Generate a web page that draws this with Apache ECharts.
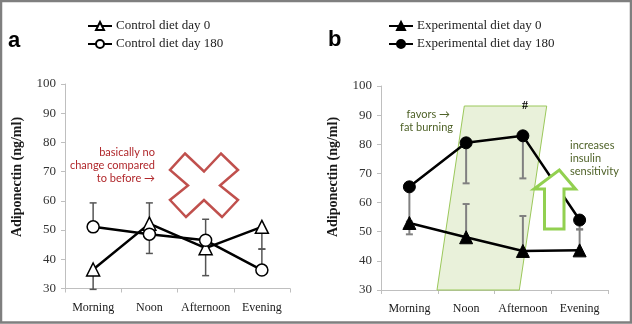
<!DOCTYPE html>
<html>
<head>
<meta charset="utf-8">
<script src="https://cdn.jsdelivr.net/npm/echarts@6/dist/echarts.min.js"></script>
<style>
  html, body { margin: 0; padding: 0; background: #fff; }
  #chart { width: 632px; height: 324px; }
</style>
</head>
<body>
<div id="chart"></div>
<script>
// Time points of the day
const categories = ['Morning', 'Noon', 'Afternoon', 'Evening'];
const yTicks = [30, 40, 50, 60, 70, 80, 90, 100];

// Panel a: control diet (ng/ml)
const ctrlDay0 = [36.5, 52.2, 43.8, 51.1];
const ctrlDay180 = [51.1, 48.6, 46.5, 36.3];
// one-sided error bar end points
const ctrlDay0ErrEnd = [29.7, 59.3, 34.4, 43.5];
const ctrlDay180ErrEnd = [59.3, 42.0, 53.7, 43.5];

// Panel b: experimental diet (ng/ml)
const expDay0 = [53.0, 48.1, 43.4, 43.6];
const expDay180 = [65.4, 80.5, 82.9, 54.0];
const expDay0ErrEnd = [49.1, 59.5, 55.4, 50.8];
const expDay180ErrEnd = [53.5, 66.6, 68.3, 50.8];

const serif = '"Liberation Serif", "Times New Roman", serif';
const sans = 'Lato, "Open Sans", sans-serif';

function errorBars(name, axisIdx, start, end, color, width) {
  return {
    name: name,
    type: 'custom',
    xAxisIndex: axisIdx,
    yAxisIndex: axisIdx,
    z: 2,
    silent: true,
    data: start.map((v, i) => [i, v, end[i]]),
    renderItem: function (params, api) {
      const p0 = api.coord([api.value(0), api.value(1)]);
      const p1 = api.coord([api.value(0), api.value(2)]);
      const st = { stroke: color, lineWidth: width };
      return {
        type: 'group',
        children: [
          { type: 'line', shape: { x1: p0[0], y1: p0[1], x2: p1[0], y2: p1[1] }, style: st },
          { type: 'line', shape: { x1: p1[0] - 3.5, y1: p1[1], x2: p1[0] + 3.5, y2: p1[1] }, style: st }
        ]
      };
    }
  };
}

function lineSeries(name, axisIdx, data, symbol, filled) {
  return {
    name: name,
    type: 'line',
    xAxisIndex: axisIdx,
    yAxisIndex: axisIdx,
    data: data,
    z: 3,
    symbol: symbol,
    symbolSize: symbol === 'triangle' ? 13 : 12,
    showAllSymbol: true,
    lineStyle: { color: '#000', width: 2.5 },
    itemStyle: filled
      ? { color: '#000', borderColor: '#000', borderWidth: 1 }
      : { color: '#fff', borderColor: '#000', borderWidth: 1.5 },
    emphasis: { disabled: true }
  };
}

function xAxis(gridIndex) {
  return {
    type: 'category',
    gridIndex: gridIndex,
    data: categories,
    boundaryGap: true,
    axisLine: { lineStyle: { color: '#bfbfbf', width: 1 } },
    axisTick: { show: true, alignWithLabel: false, length: 4, lineStyle: { color: '#bfbfbf' } },
    axisLabel: { color: '#1a1a1a', fontFamily: serif, fontSize: 12, margin: 13, interval: 0 },
    splitLine: { show: false }
  };
}

function yAxis(gridIndex) {
  return {
    type: 'value',
    gridIndex: gridIndex,
    min: yTicks[0],
    max: yTicks[yTicks.length - 1],
    interval: 10,
    axisLine: { show: true, lineStyle: { color: '#bfbfbf', width: 1 } },
    axisTick: { show: true, length: 4, lineStyle: { color: '#bfbfbf' } },
    axisLabel: { color: '#333', fontFamily: serif, fontSize: 13, margin: 9 },
    splitLine: { show: false }
  };
}

function legend(left, names) {
  return {
    left: left,
    top: 14,
    orient: 'vertical',
    itemWidth: 24,
    itemHeight: 10,
    itemGap: 4,
    data: names,
    selectedMode: false,
    lineStyle: { width: 2 },
    textStyle: { fontFamily: serif, fontSize: 13, lineHeight: 14, color: '#222', padding: [0, 0, 0, -1] }
  };
}

function txt(text, x, y, opts) {
  return {
    type: 'text',
    z: 6,
    style: Object.assign({
      text: text, x: x, y: y,
      fill: '#000', font: '11px ' + sans,
      textAlign: 'left', textVerticalAlign: 'middle'
    }, opts || {})
  };
}

const chart = echarts.init(document.getElementById('chart'), null, { renderer: 'canvas' });

const option = {
  animation: false,
  backgroundColor: '#fff',
  grid: [
    { left: 65, top: 84, width: 225, height: 204.5 },
    { left: 381, top: 86, width: 227, height: 204 }
  ],
  xAxis: [xAxis(0), xAxis(1)],
  yAxis: [yAxis(0), yAxis(1)],
  legend: [
    legend(82, ['Control diet day 0', 'Control diet day 180']),
    legend(383, ['Experimental diet day 0', 'Experimental diet day 180'])
  ],
  series: [
    errorBars('ctrl0-err', 0, ctrlDay0, ctrlDay0ErrEnd, '#555', 1.5),
    errorBars('ctrl180-err', 0, ctrlDay180, ctrlDay180ErrEnd, '#555', 1.5),
    lineSeries('Control diet day 0', 0, ctrlDay0, 'triangle', false),
    lineSeries('Control diet day 180', 0, ctrlDay180, 'circle', false),
    errorBars('exp0-err', 1, expDay0, expDay0ErrEnd, '#808080', 2),
    errorBars('exp180-err', 1, expDay180, expDay180ErrEnd, '#808080', 2),
    lineSeries('Experimental diet day 0', 1, expDay0, 'triangle', true),
    lineSeries('Experimental diet day 180', 1, expDay180, 'circle', true)
  ],
  graphic: [
    // outer frame
    { type: 'rect', z: 10, silent: true,
      shape: { x: 1, y: 1, width: 630, height: 321.5 },
      style: { fill: 'none', stroke: '#7f7f7f', lineWidth: 2.5 } },
    // panel letters
    txt('a', 8, 41, { font: 'bold 22px "Liberation Sans", Arial, sans-serif' }),
    txt('b', 328, 40, { font: 'bold 22px "Liberation Sans", Arial, sans-serif' }),
    // y axis titles
    { type: 'text', z: 6, x: 17, y: 177, rotation: Math.PI / 2,
      style: { text: 'Adiponectin (ng/ml)', x: 0, y: 0, fill: '#1a1a1a',
        font: 'bold 14px ' + serif, textAlign: 'center', textVerticalAlign: 'middle' } },
    { type: 'text', z: 6, x: 333, y: 177, rotation: Math.PI / 2,
      style: { text: 'Adiponectin (ng/ml)', x: 0, y: 0, fill: '#1a1a1a',
        font: 'bold 14px ' + serif, textAlign: 'center', textVerticalAlign: 'middle' } },
    // panel a note
    txt('basically no', 155, 152, { fill: '#b0272b', textAlign: 'right' }),
    txt('change compared', 155, 165, { fill: '#b0272b', textAlign: 'right' }),
    txt('to before \u2192', 155, 178, { fill: '#b0272b', textAlign: 'right' }),
    // red cross
    { type: 'polygon', z: 5, silent: true,
      shape: { points: [[185, 153.5], [204, 171.5], [221, 153.5], [238, 170], [220, 185.5], [238, 200],
        [222, 217], [204, 200], [186, 217], [170, 200], [188, 185.5], [170, 170]] },
      style: { fill: 'none', stroke: '#c0504d', lineWidth: 2.5, lineJoin: 'miter' } },
    // panel b shaded band
    { type: 'polygon', z: 1, silent: true,
      shape: { points: [[464.3, 106], [546.7, 106], [519.3, 290], [437, 290]] },
      style: { fill: '#e9f1da', stroke: '#9bc85a', lineWidth: 1 } },
    txt('#', 525, 106, { font: 'bold 12px ' + serif, textAlign: 'center' }),
    txt('favors \u2192', 450, 114, { fill: '#4f6228', textAlign: 'right' }),
    txt('fat burning', 453, 127, { fill: '#4f6228', textAlign: 'right' }),
    txt('increases', 570, 145, { fill: '#4f6228' }),
    txt('insulin', 570, 158, { fill: '#4f6228' }),
    txt('sensitivity', 570, 171, { fill: '#4f6228' }),
    // up arrow
    { type: 'polygon', z: 5, silent: true,
      shape: { points: [[559.3, 170], [575.5, 189], [564, 189], [564, 229], [544.5, 229], [544.5, 189], [534, 189]] },
      style: { fill: '#fff', stroke: '#92d050', lineWidth: 3, lineJoin: 'miter' } }
  ]
};

chart.setOption(option);
</script>
</body>
</html>
